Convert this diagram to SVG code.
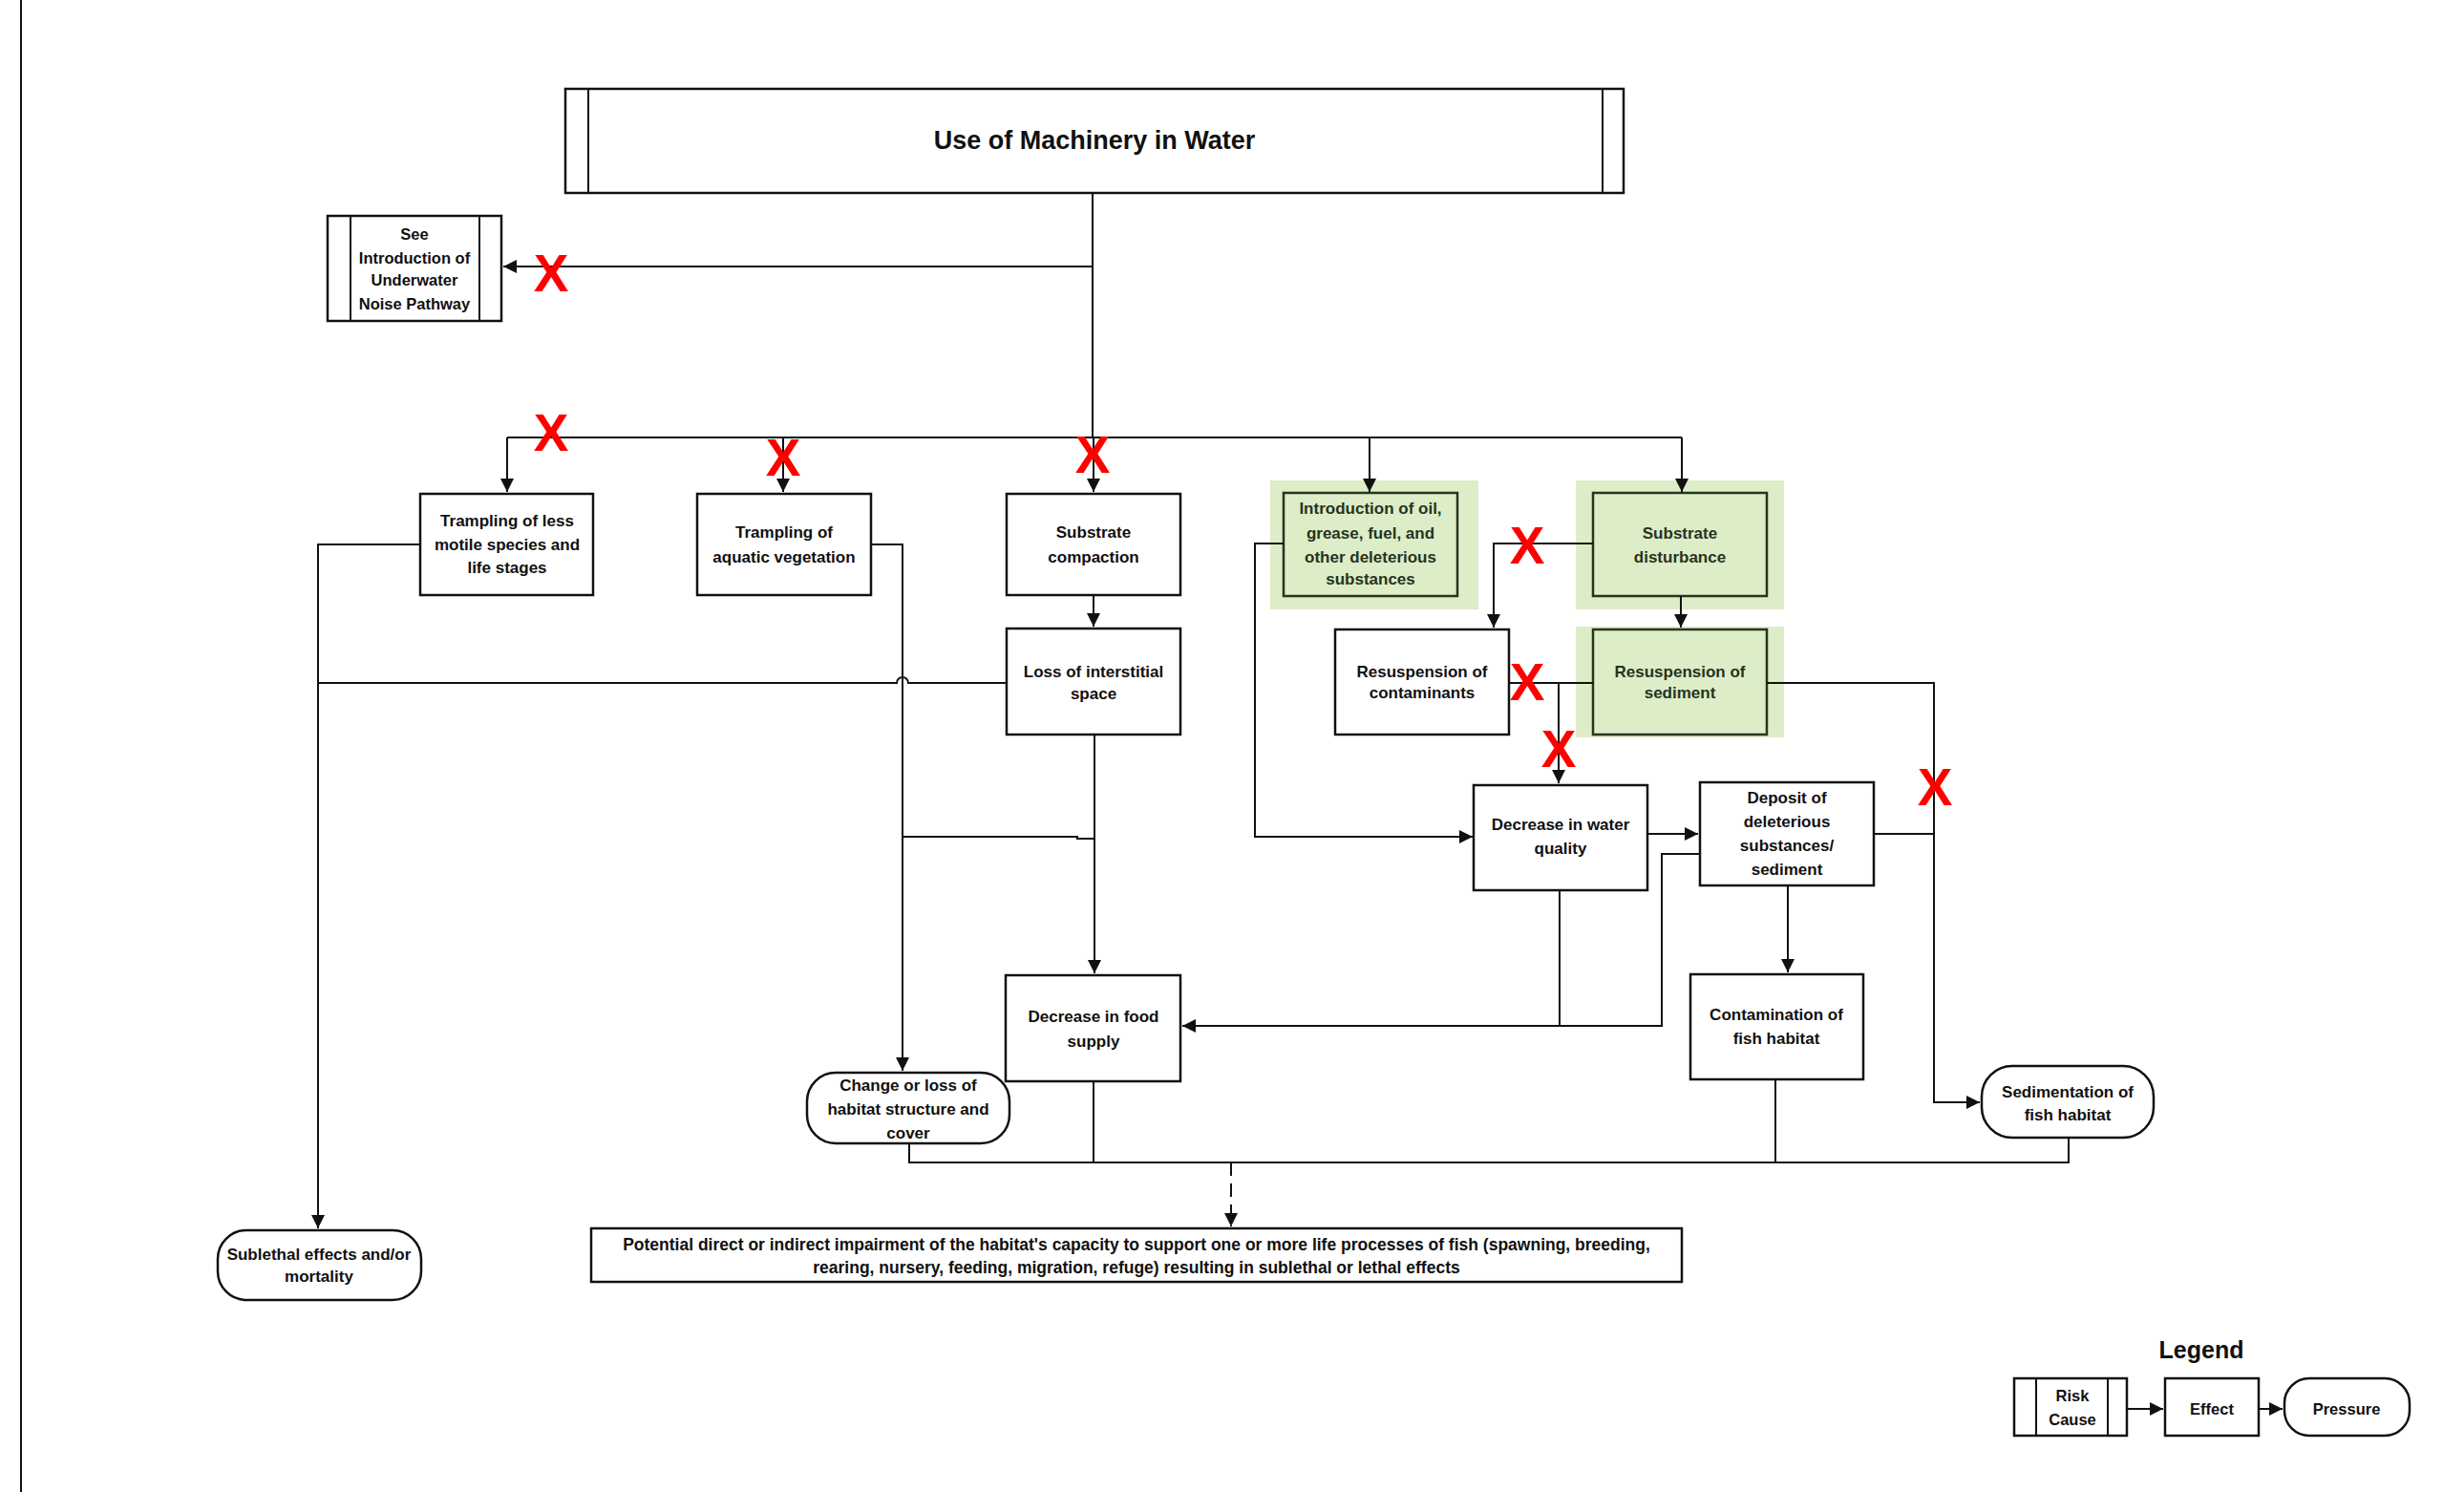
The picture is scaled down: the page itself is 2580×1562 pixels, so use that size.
<svg xmlns="http://www.w3.org/2000/svg" width="2580" height="1562" viewBox="0 0 2580 1562">
<defs>
<style>
.box{fill:#fff;stroke:#111;stroke-width:2.5}
.gbox{fill:#dcedc8;stroke:#26361c;stroke-width:2.5}
.ln{fill:none;stroke:#111;stroke-width:2}
.arr{fill:none;stroke:#111;stroke-width:2;marker-end:url(#ah)}
.t{font-family:"Liberation Sans",Arial,sans-serif;font-weight:bold;font-size:17px;fill:#111;text-anchor:middle}
.g{fill:#27331c}
.s16{font-size:16.5px}
.imp{font-size:17.5px}
.title{font-size:27px}
.x{font-family:"Liberation Sans",Arial,sans-serif;font-weight:bold;font-size:55px;fill:#ff0000;text-anchor:middle}
.hl{fill:#dcedc8}
</style>
<marker id="ah" viewBox="0 0 10 10" refX="10" refY="5" markerWidth="14" markerHeight="14" markerUnits="userSpaceOnUse" orient="auto">
<path d="M0,0 L10,5 L0,10 z" fill="#111"/>
</marker>
</defs>
<rect width="2580" height="1562" fill="#fff"/>
<line x1="22" y1="0" x2="22" y2="1562" class="ln"/>

<g id="n-title">
<rect class="box" x="592" y="93" width="1108" height="109"/>
<line class="ln" x1="616" y1="93" x2="616" y2="202"/>
<line class="ln" x1="1678" y1="93" x2="1678" y2="202"/>
<text class="t title" x="1146" y="156">Use of Machinery in Water</text>
</g>

<g id="n-see">
<rect class="box" x="343" y="226" width="182" height="110"/>
<line class="ln" x1="367" y1="226" x2="367" y2="336"/>
<line class="ln" x1="502" y1="226" x2="502" y2="336"/>
<text class="t s16" x="434" y="251">See</text>
<text class="t s16" x="434" y="276">Introduction of</text>
<text class="t s16" x="434" y="299">Underwater</text>
<text class="t s16" x="434" y="324">Noise Pathway</text>
</g>

<g id="n-trampling-less">
<rect class="box" x="440" y="517" width="181" height="106"/>
<text class="t" x="531" y="551">Trampling of less</text>
<text class="t" x="531" y="576">motile species and</text>
<text class="t" x="531" y="600">life stages</text>
</g>

<g id="n-trampling-veg">
<rect class="box" x="730" y="517" width="182" height="106"/>
<text class="t" x="821" y="563">Trampling of</text>
<text class="t" x="821" y="589">aquatic vegetation</text>
</g>

<g id="n-compaction">
<rect class="box" x="1054" y="517" width="182" height="106"/>
<text class="t" x="1145" y="563">Substrate</text>
<text class="t" x="1145" y="589">compaction</text>
</g>

<g id="n-interstitial">
<rect class="box" x="1054" y="658" width="182" height="111"/>
<text class="t" x="1145" y="709">Loss of interstitial</text>
<text class="t" x="1145" y="732">space</text>
</g>

<g id="n-oil">
<rect class="hl" x="1330" y="503" width="218" height="135"/>
<rect class="gbox" x="1344" y="516" width="182" height="108"/>
<text class="t g" x="1435" y="538">Introduction of oil,</text>
<text class="t g" x="1435" y="564">grease, fuel, and</text>
<text class="t g" x="1435" y="589">other deleterious</text>
<text class="t g" x="1435" y="612">substances</text>
</g>

<g id="n-disturbance">
<rect class="hl" x="1650" y="503" width="218" height="135"/>
<rect class="gbox" x="1668" y="516" width="182" height="108"/>
<text class="t g" x="1759" y="564">Substrate</text>
<text class="t g" x="1759" y="589">disturbance</text>
</g>

<g id="n-contaminants">
<rect class="box" x="1398" y="659" width="182" height="110"/>
<text class="t" x="1489" y="709">Resuspension of</text>
<text class="t" x="1489" y="731">contaminants</text>
</g>

<g id="n-sediment">
<rect class="hl" x="1650" y="656" width="218" height="116"/>
<rect class="gbox" x="1668" y="659" width="182" height="110"/>
<text class="t g" x="1759" y="709">Resuspension of</text>
<text class="t g" x="1759" y="731">sediment</text>
</g>

<g id="n-water-quality">
<rect class="box" x="1543" y="822" width="182" height="110"/>
<text class="t" x="1634" y="869">Decrease in water</text>
<text class="t" x="1634" y="894">quality</text>
</g>

<g id="n-deposit">
<rect class="box" x="1780" y="819" width="182" height="108"/>
<text class="t" x="1871" y="841">Deposit of</text>
<text class="t" x="1871" y="866">deleterious</text>
<text class="t" x="1871" y="891">substances/</text>
<text class="t" x="1871" y="916">sediment</text>
</g>

<g id="n-contamination">
<rect class="box" x="1770" y="1020" width="181" height="110"/>
<text class="t" x="1860" y="1068">Contamination of</text>
<text class="t" x="1860" y="1093">fish habitat</text>
</g>

<g id="n-sedimentation">
<rect class="box" x="2075" y="1116" width="180" height="75" rx="32" ry="32"/>
<text class="t" x="2165" y="1149">Sedimentation of</text>
<text class="t" x="2165" y="1173">fish habitat</text>
</g>

<g id="n-food">
<rect class="box" x="1053" y="1021" width="183" height="111"/>
<text class="t" x="1145" y="1070">Decrease in food</text>
<text class="t" x="1145" y="1096">supply</text>
</g>

<g id="n-habitat">
<rect class="box" x="845" y="1123" width="212" height="74" rx="30" ry="30"/>
<text class="t" x="951" y="1142">Change or loss of</text>
<text class="t" x="951" y="1167">habitat structure and</text>
<text class="t" x="951" y="1192">cover</text>
</g>

<g id="n-sublethal">
<rect class="box" x="228" y="1288" width="213" height="73" rx="30" ry="30"/>
<text class="t" x="334" y="1319">Sublethal effects and/or</text>
<text class="t" x="334" y="1342">mortality</text>
</g>

<g id="n-impairment">
<rect class="box" x="619" y="1286" width="1142" height="56"/>
<text class="t imp" x="1190" y="1309">Potential direct or indirect impairment of the habitat's capacity to support one or more life processes of fish (spawning, breeding,</text>
<text class="t imp" x="1190" y="1333">rearing, nursery, feeding, migration, refuge) resulting in sublethal or lethal effects</text>
</g>

<g id="connectors">
<path class="ln" d="M1144,202 V458"/>
<path class="arr" d="M1144,279 H527"/>
<path class="ln" d="M531,458 H1761"/>
<path class="arr" d="M531,458 V515"/>
<path class="arr" d="M820,458 V515"/>
<path class="arr" d="M1145,458 V515"/>
<path class="arr" d="M1434,458 V515"/>
<path class="arr" d="M1761,458 V515"/>
<path class="arr" d="M1145,623 V656"/>
<path class="arr" d="M440,570 H333 V1286"/>
<path class="ln" d="M1054,715 H951 a6,6 0 0 0 -12,0 H333"/>
<path class="arr" d="M912,570 H945 V1121"/>
<path class="ln" d="M945,876 H1128 V878 H1146"/>
<path class="arr" d="M1146,769 V1019"/>
<path class="arr" d="M1344,569 H1314 V876 H1542"/>
<path class="arr" d="M1668,569 H1564 V657"/>
<path class="arr" d="M1760,624 V657"/>
<path class="ln" d="M1580,715 H1668"/>
<path class="arr" d="M1632,715 V820"/>
<path class="arr" d="M1850,715 H2025 V1154 H2073"/>
<path class="arr" d="M1725,873 H1778"/>
<path class="ln" d="M1962,873 H2025"/>
<path class="arr" d="M1780,894 H1740 V1074 H1238"/>
<path class="ln" d="M1633,932 V1074"/>
<path class="arr" d="M1872,927 V1018"/>
<path class="ln" d="M952,1197 V1217 H2166 V1191"/>
<path class="ln" d="M1145,1132 V1217"/>
<path class="ln" d="M1859,1130 V1217"/>
<path class="arr" d="M1289,1217 V1284" stroke-dasharray="14,8"/>
<path class="arr" d="M2227,1475 H2265"/>
<path class="arr" d="M2365,1475 H2390"/>
</g>

<g id="marks">
<text class="x" x="577" y="305">X</text>
<text class="x" x="577" y="472">X</text>
<text class="x" x="820" y="498">X</text>
<text class="x" x="1144" y="495">X</text>
<text class="x" x="1599" y="590">X</text>
<text class="x" x="1599" y="733">X</text>
<text class="x" x="1632" y="803">X</text>
<text class="x" x="2026" y="843">X</text>
</g>

<g id="legend">
<text class="t" x="2305" y="1422" style="font-size:25px">Legend</text>
<g id="legend-risk">
<rect class="box" x="2109" y="1443" width="118" height="60"/>
<line class="ln" x1="2132" y1="1443" x2="2132" y2="1503"/>
<line class="ln" x1="2207" y1="1443" x2="2207" y2="1503"/>
<text class="t s16" x="2170" y="1467">Risk</text>
<text class="t s16" x="2170" y="1492">Cause</text>
</g>
<g id="legend-effect">
<rect class="box" x="2267" y="1443" width="98" height="60"/>
<text class="t s16" x="2316" y="1481">Effect</text>
</g>
<g id="legend-pressure">
<rect class="box" x="2392" y="1443" width="131" height="60" rx="26" ry="26"/>
<text class="t s16" x="2457" y="1481">Pressure</text>
</g>
</g>
</svg>
